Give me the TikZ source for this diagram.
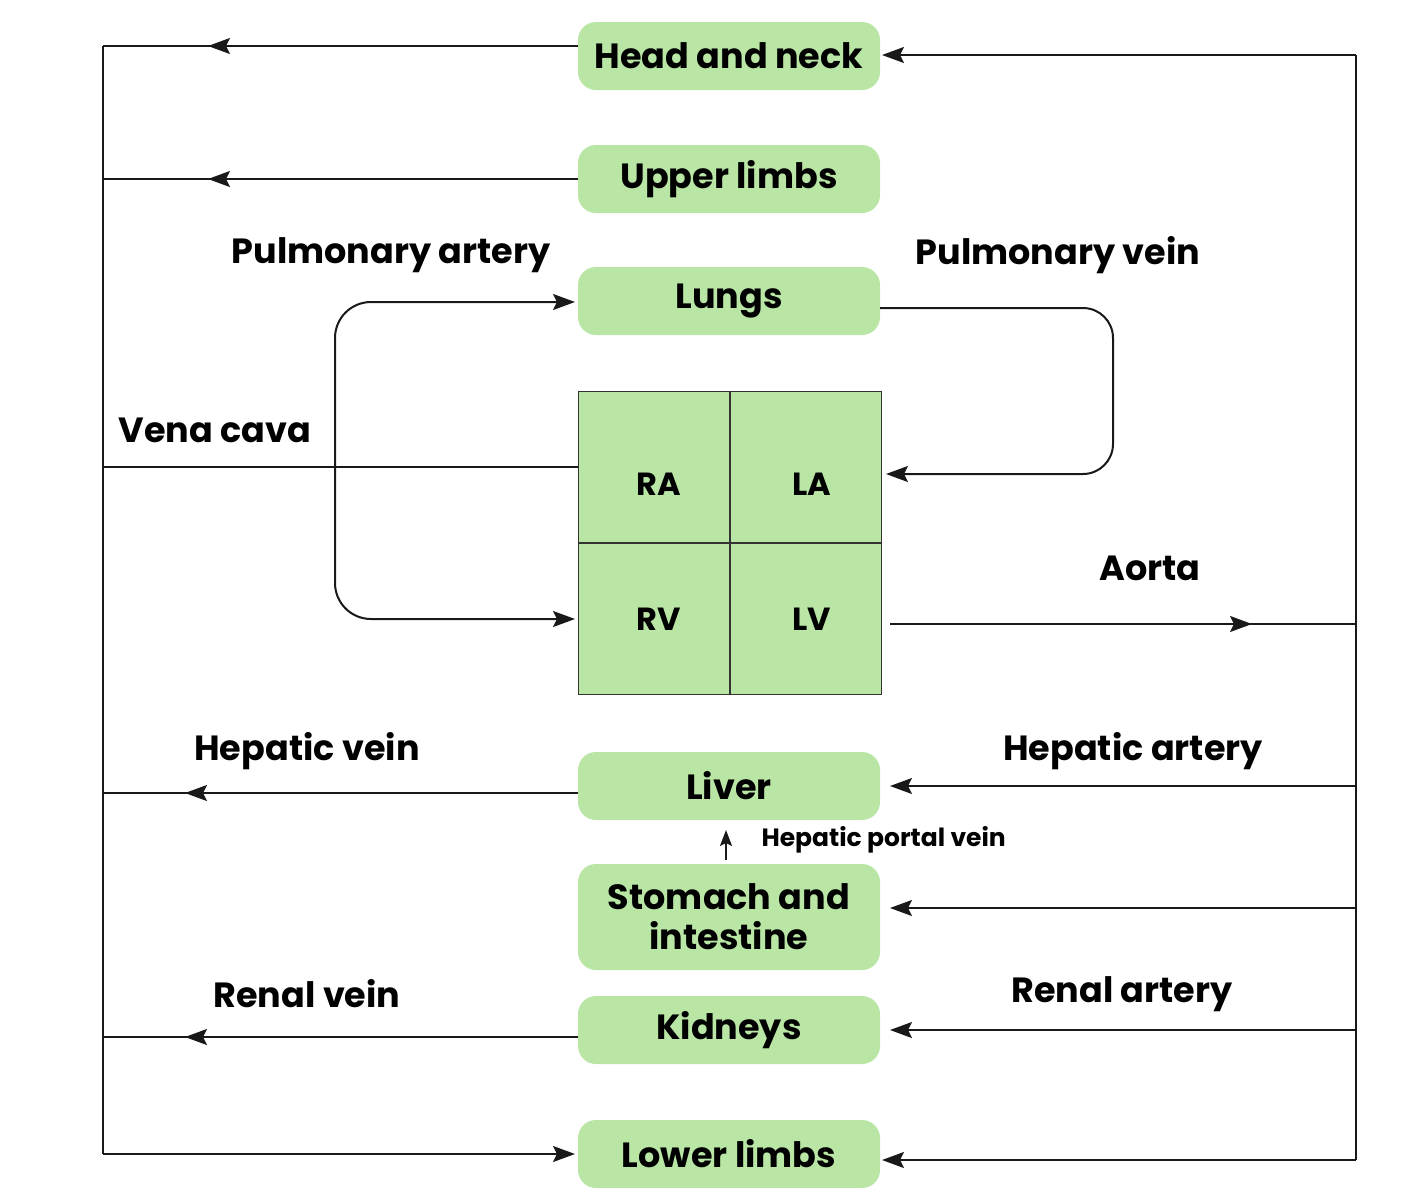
\documentclass[tikz,border=0pt]{standalone}
\usepackage{fontspec}
\setmainfont{Poppins}[UprightFont=* Bold]
\usetikzlibrary{arrows.meta}
\definecolor{gfill}{RGB}{185,230,165}
\begin{document}
\begin{tikzpicture}[x=1pt,y=-1pt,
 box/.style={fill=gfill,rounded corners=18pt,minimum width=302pt,minimum height=68pt,align=center,font=\fontsize{35}{40}\selectfont,inner sep=0pt},
 lab/.style={font=\fontsize{35}{38}\selectfont},
 ln/.style={line width=2pt,black!90},
 ar/.style={ln,-{Stealth[length=22pt,width=16pt,inset=4pt]}},
 cell/.style={draw=black!80,line width=1.5pt,fill=gfill,minimum size=151.5pt,inner sep=0pt},
 clab/.style={font=\fontsize{32}{34}\selectfont}]
\useasboundingbox (0,0) rectangle (1401,1200);
\node[box] (hn) at (729,56) {Head and neck};
\node[box] (ul) at (729,179) {Upper limbs};
\node[box] (lu) at (729,301) {Lungs};
\node[box] (li) at (729,786) {Liver};
\node[box,minimum height=106pt] (st) at (729,917) {Stomach and\\intestine};
\node[box] (ki) at (729,1030) {Kidneys};
\node[box] (ll) at (729,1154) {Lower limbs};
\node[cell] (ra) at (654,467) {};
\node[cell] (la) at (805.5,467) {};
\node[cell] (rv) at (654,618.5) {};
\node[cell] (lv) at (805.5,618.5) {};
\node[clab] at (659,484) {RA};
\node[clab] at (812,484) {LA};
\node[clab] at (659,619) {RV};
\node[clab] at (812,619) {LV};
\coordinate (L1) at (103,46); \coordinate (L2) at (103,1154);
\coordinate (R1) at (1356,55); \coordinate (R2) at (1356,1160);
\draw[ln] (L1) -- (L2);
\draw[ln] (R1) -- (R2);
\draw[ar] (578,46) -- (208,46); \draw[ln] (210,46) -- (L1);
\draw[ar] (578,179) -- (208,179); \draw[ln] (210,179) -- (103,179);
\draw[ln] (ra.west) -- (103,467);
\draw[ar] (578,793) -- (185,793); \draw[ln] (187,793) -- (103,793);
\draw[ar] (578,1037) -- (185,1037); \draw[ln] (187,1037) -- (103,1037);
\draw[ar] (L2) -- (575,1154);
\draw[ar] (R1) -- (882,55);
\draw[ar] (1356,786) -- (890,786);
\draw[ar] (1356,908) -- (890,908);
\draw[ar] (1356,1030) -- (890,1030);
\draw[ar] (R2) -- (882,1160);
\draw[ar] (890,624) -- (1252,624); \draw[ln] (1250,624) -- (1356,624);
\draw[ar,rounded corners=36pt] (335,460) -- (335,302) -- (575,302);
\draw[ar,rounded corners=36pt] (335,460) -- (335,619) -- (575,619);
\draw[ar,rounded corners=30pt] (880,308) -- (1113,308) -- (1113,474) -- (886,474);
\draw[ln,-{Stealth[length=16pt,width=12pt,inset=3pt]}] (726,860) -- (726,830);
\node[anchor=west,font=\fontsize{25}{27}\selectfont] at (758,840) {Hepatic portal vein};
\node[lab] at (391,255) {Pulmonary artery};
\node[lab] at (1058,255) {Pulmonary vein};
\node[lab] at (215,430) {Vena cava};
\node[lab] at (1150,568) {Aorta};
\node[lab] at (307,751) {Hepatic vein};
\node[lab] at (1133,751) {Hepatic artery};
\node[lab] at (307,994) {Renal vein};
\node[lab] at (1122,994) {Renal artery};
\end{tikzpicture}
\end{document}
